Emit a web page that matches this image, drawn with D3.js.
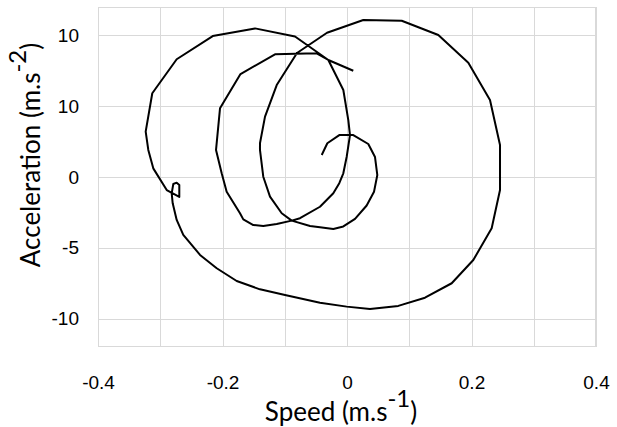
<!DOCTYPE html>
<meta charset="utf-8">
<head>
    <style>
        body{
            margin: 0;
            background-color: white;
        }
        .grid line {
            stroke: #d9d9d9;
            stroke-width: 1;
            shape-rendering: crispEdges;
        }
        .grid path {
            stroke-width: 0;
        }
        .axis text{
            font-family: "Liberation Sans", Arial, sans-serif;
            font-size: 19px;
            fill: black;
        }
        .title{
            font-family: Lato, "Noto Sans", sans-serif;
            font-size: 26px;
            fill: black;
        }
    </style>
</head>
<body>
<div id="chart"></div>

<script src="https://cdn.jsdelivr.net/npm/d3@7"></script>
<script>

    // speed (m/s) and acceleration (m/s^2), in time order
    const speed = [-0.0406, -0.0316, -0.0124, 0.0101, 0.0342, 0.0450, 0.0487, 0.0434, 0.0316, 0.0129,
        -0.0059, -0.0220, -0.0434, -0.0594, -0.0888, -0.1049, -0.1237, -0.1345, -0.1398, -0.1398,
        -0.1317, -0.1129, -0.0803, -0.0321, 0.0262, 0.0879, 0.1467, 0.1949, 0.2297, 0.2458,
        0.2458, 0.2324, 0.2029, 0.1682, 0.1253, 0.0824, 0.0369, -0.0005, -0.0434, -0.0996,
        -0.1398, -0.1772, -0.2093, -0.2361, -0.2630, -0.2736, -0.2800, -0.2816, -0.2790, -0.2736,
        -0.2694, -0.2694, -0.2896, -0.3112, -0.3192, -0.3234, -0.3128, -0.2736, -0.2157, -0.1478,
        -0.0835, -0.0300, -0.0059, 0.0021, 0.0048, -0.0005, -0.0059, -0.0124, -0.0220, -0.0434,
        -0.0755, -0.0888, -0.1129, -0.1345, -0.1505, -0.1666, -0.1719, -0.1933, -0.2013, -0.2104,
        -0.2040, -0.1711, -0.1157, -0.0487, -0.0300, 0.0101];
    const accel = [1.55, 2.38, 2.96, 2.96, 2.33, 1.41, 0.14, -1.04, -2.01, -2.96,
        -3.49, -3.67, -3.55, -3.46, -3.08, -2.56, -1.39, 0.02, 1.91, 2.38,
        4.26, 6.49, 8.75, 10.18, 11.08, 11.03, 10.02, 8.07, 5.43, 2.26,
        -0.92, -3.62, -5.86, -7.50, -8.52, -9.10, -9.31, -9.15, -8.87, -8.33,
        -7.93, -7.34, -6.44, -5.50, -4.09, -3.03, -1.86, -1.15, -0.49, -0.40,
        -0.56, -1.41, -0.92, 0.61, 1.91, 3.20, 5.91, 8.31, 9.95, 10.49,
        9.92, 8.26, 6.14, 4.02, 2.96, 1.43, 0.26, -0.44, -1.15, -2.10,
        -2.91, -3.08, -3.32, -3.46, -3.39, -2.99, -2.56, -1.04, 0.26, 1.91,
        4.85, 7.27, 8.66, 8.73, 8.26, 7.50];

    // tick labels as printed on the original
    const xTicks = [-0.4, -0.2, 0, 0.2, 0.4];
    const xTickLabels = ["-0.4", "-0.2", "0", "0.2", "0.4"];
    const yTicks = [10, 5, 0, -5, -10];
    const yTickLabels = ["10", "10", "0", "-5", "-10"];

    const margin = {top: 7, right: 21, bottom: 80, left: 98},
        width = 617 - margin.left - margin.right,
        height = 427 - margin.top - margin.bottom;

    const svg = d3.select("#chart")
        .append("svg")
        .attr("width", width + margin.left + margin.right)
        .attr("height", height + margin.top + margin.bottom)
        .append("g")
        .attr("transform", `translate(${margin.left}, ${margin.top})`);

    const x = d3.scaleLinear()
        .domain([-0.4, 0.4])
        .range([0, width]);

    const y = d3.scaleLinear()
        .domain([-12, 12])
        .range([height, 0]);

    // gridlines
    svg.append("g")
        .attr("class", "grid")
        .attr("transform", `translate(0, ${height})`)
        .call(d3.axisBottom(x)
            .ticks(8)
            .tickSize(-height)
            .tickFormat("")
        );

    svg.append("g")
        .attr("class", "grid")
        .call(d3.axisLeft(y)
            .tickValues(yTicks)
            .tickSize(-width)
            .tickFormat("")
        );

    // frame
    svg.append("rect")
        .attr("x", 0.5)
        .attr("y", 0.5)
        .attr("width", width - 1)
        .attr("height", height - 1)
        .attr("fill", "none")
        .attr("stroke", "#d9d9d9");

    // axes, labels only
    const xAxis = svg.append("g")
        .attr("class", "axis")
        .attr("transform", `translate(0, ${height})`)
        .call(d3.axisBottom(x)
            .tickValues(xTicks)
            .tickFormat((d, i) => xTickLabels[i])
            .tickSize(0)
            .tickPadding(29));
    xAxis.select(".domain").remove();

    const yAxis = svg.append("g")
        .attr("class", "axis")
        .call(d3.axisLeft(y)
            .tickValues(yTicks)
            .tickFormat((d, i) => yTickLabels[i])
            .tickSize(0)
            .tickPadding(19));
    yAxis.select(".domain").remove();

    // the trace
    const pts = speed.map((s, i) => [s, accel[i]]);
    svg.append("path")
        .datum(pts)
        .attr("fill", "none")
        .attr("stroke", "black")
        .attr("stroke-width", 2)
        .attr("stroke-linejoin", "round")
        .attr("d", d3.line()
            .x(d => x(d[0]))
            .y(d => y(d[1]))
        );

    // X axis title
    const xt = svg.append("text")
        .attr("class", "title")
        .attr("text-anchor", "middle")
        .attr("x", x(0) - 6)
        .attr("y", height + 74);
    xt.append("tspan").text("Speed (m.s");
    xt.append("tspan").attr("dy", -14).attr("font-size", "24px").text("-1");
    xt.append("tspan").attr("dy", 14).text(")");

    // Y axis title
    const yt = svg.append("text")
        .attr("class", "title")
        .attr("text-anchor", "middle")
        .attr("transform", "rotate(-90)")
        .attr("font-size", "27px")
        .attr("x", -148)
        .attr("y", -58);
    yt.append("tspan").text("Acceleration (m.s");
    yt.append("tspan").attr("dy", -14).attr("font-size", "24px").text("-2");
    yt.append("tspan").attr("dy", 14).text(")");

</script>
</body>
